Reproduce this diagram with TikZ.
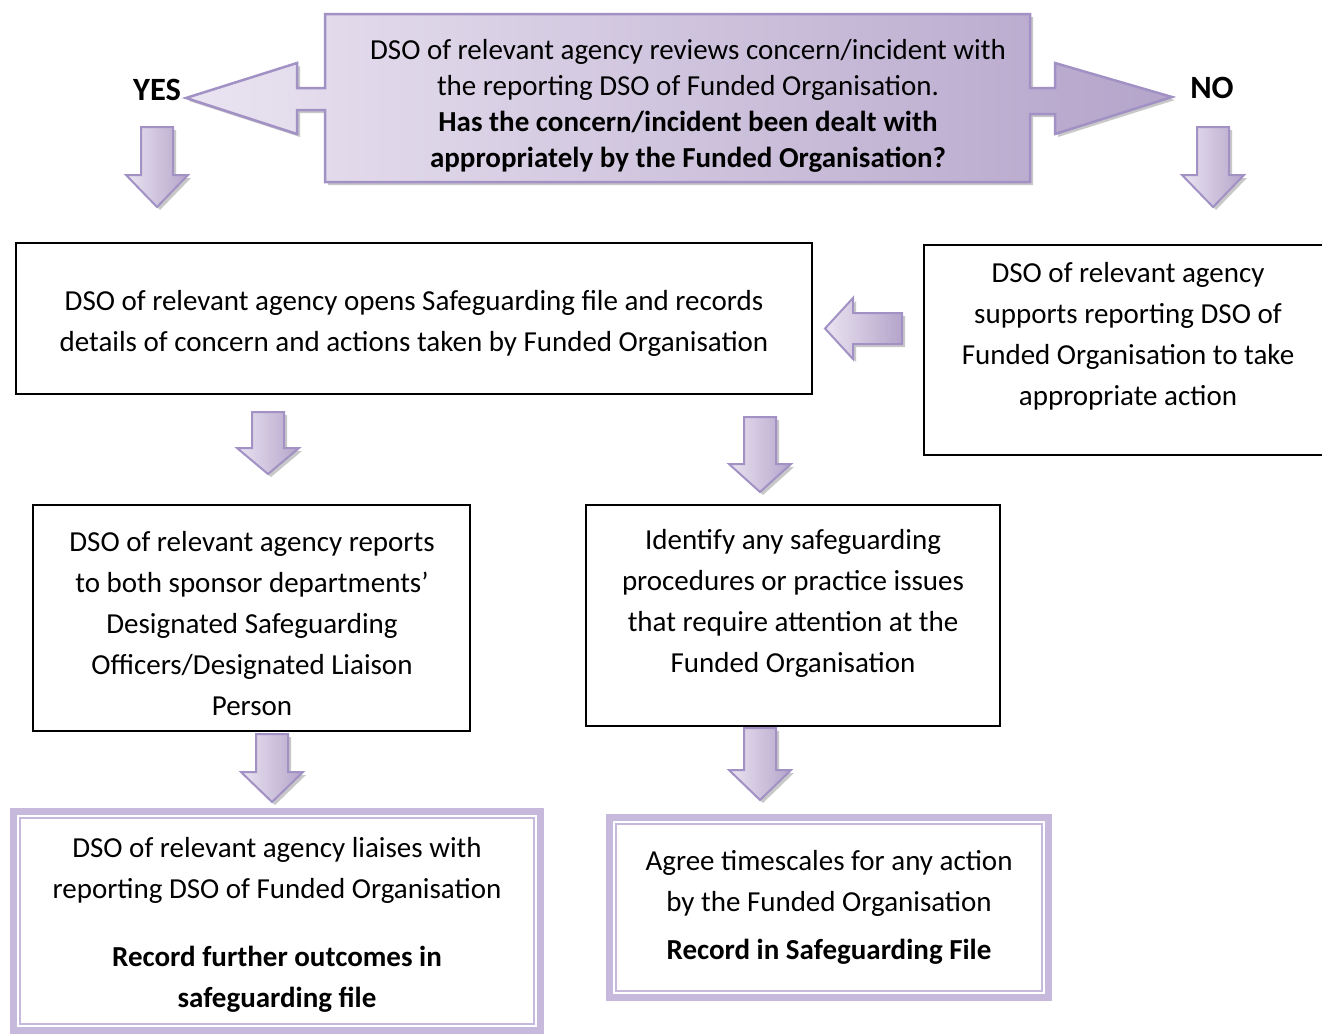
\documentclass[tikz,border=0pt]{standalone}
\usepackage{fontspec}
\setmainfont{Carlito}
\usetikzlibrary{shadows}

\definecolor{lavlight}{HTML}{EAE4F1}
\definecolor{lavdark}{HTML}{B4A4CA}
\definecolor{lavedge}{HTML}{A191C4}
\definecolor{lavband}{HTML}{C6B9DB}

\tikzset{
  blockarrow/.style={draw=lavedge, line width=2pt, line join=miter,
    left color=lavlight, right color=lavdark,
    drop shadow={shadow xshift=3pt, shadow yshift=-3pt, opacity=0.3, fill=black!70}},
  boxline/.style={draw=black, line width=1.6pt},
  boxtext/.style={align=center, font=\fontsize{29}{41}\selectfont, inner sep=0pt},
  answer/.style={font=\fontsize{32.5}{36}\selectfont\bfseries, inner sep=0pt}
}

% block arrow pointing down: centre x, top, head base, tip
\newcommand{\downblock}[4]{%
  \draw[blockarrow] (#1-16,#2) -- (#1+16,#2) -- (#1+16,#3) -- (#1+31,#3)
    -- (#1,#4) -- (#1-31,#3) -- (#1-16,#3) -- cycle;}

% double purple frame: left, top, right, bottom
\newcommand{\doubleframe}[4]{%
  \draw[lavband, line width=7pt] (#1+3.5,#2+3.5) rectangle (#3-3.5,#4-3.5);
  \draw[lavband, line width=2pt] (#1+10,#2+10) rectangle (#3-10,#4-10);}

\begin{document}
\begin{tikzpicture}[x=1pt, y=-1pt]
  \useasboundingbox[fill=white] (0,0) rectangle (1322,1034);

  % question with yes / no arrows
  \draw[blockarrow, line width=2.5pt]
    (325,14) -- (1030,14) -- (1030,88) -- (1055,88) -- (1055,63) -- (1172,97)
    -- (1055,134) -- (1055,114) -- (1030,114) -- (1030,182) -- (325,182)
    -- (325,110) -- (297,110) -- (297,134) -- (186,98) -- (297,63)
    -- (297,88) -- (325,88) -- cycle;
  \node[align=center, inner sep=0pt, font=\fontsize{29}{36}\selectfont] (question) at (688,106)
    {DSO of relevant agency reviews concern/incident with\\
     the reporting DSO of Funded Organisation.\\
     \textbf{Has the concern/incident been dealt with}\\
     \textbf{appropriately by the Funded Organisation?}};

  \node[answer] (yes) at (157,90) {YES};
  \node[answer] (no) at (1212,88) {NO};

  \downblock{157}{127}{175}{207}
  \downblock{1213}{127}{175}{207}

  % first row
  \draw[boxline] (16,243) rectangle (812,394);
  \node[boxtext] (opens) at (414,323)
    {DSO of relevant agency opens Safeguarding file and records\\
     details of concern and actions taken by Funded Organisation};

  \draw[boxline] (924,245) rectangle (1340,455);
  \node[boxtext] (supports) at (1128,336)
    {DSO of relevant agency\\
     supports reporting DSO of\\
     Funded Organisation to take\\
     appropriate action};

  \draw[blockarrow] (902,313) -- (853,313) -- (853,298) -- (825,328.5)
    -- (853,359) -- (853,344) -- (902,344) -- cycle;

  \downblock{268}{412}{448}{474}
  \downblock{760}{417}{464}{492}

  % second row
  \draw[boxline] (33,505) rectangle (470,731);
  \node[boxtext] (reports) at (252,624)
    {DSO of relevant agency reports\\
     to both sponsor departments’\\
     Designated Safeguarding\\
     Officers/Designated Liaison\\
     Person};

  \draw[boxline] (586,505) rectangle (1000,726);
  \node[boxtext] (identify) at (793,603)
    {Identify any safeguarding\\
     procedures or practice issues\\
     that require attention at the\\
     Funded Organisation};

  \downblock{272}{734}{772}{802}
  \downblock{760}{728}{770}{800}

  % outcomes
  \doubleframe{10}{808}{544}{1034}
  \node[boxtext] (liaises) at (277,925)
    {DSO of relevant agency liaises with\\
     reporting DSO of Funded Organisation\\[27pt]
     \textbf{Record further outcomes in}\\
     \textbf{safeguarding file}};

  \doubleframe{606}{814}{1052}{1001}
  \node[boxtext] (agree) at (829,907)
    {Agree timescales for any action\\
     by the Funded Organisation\\[7pt]
     \textbf{Record in Safeguarding File}};
\end{tikzpicture}
\end{document}
